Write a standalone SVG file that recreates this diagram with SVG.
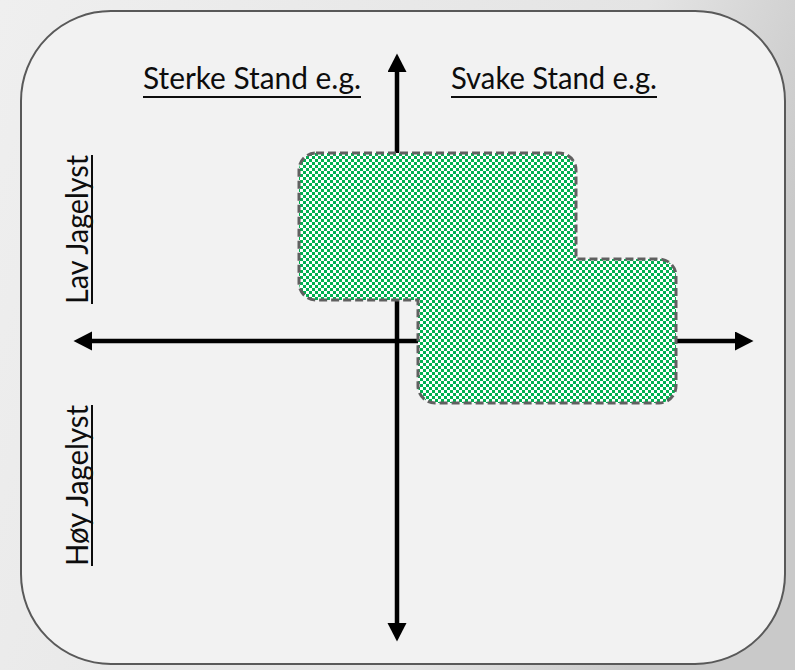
<svg xmlns="http://www.w3.org/2000/svg" width="795" height="670" viewBox="0 0 795 670">
  <defs>
    <linearGradient id="bg" x1="0" y1="0" x2="1" y2="0.3">
      <stop offset="0" stop-color="#efefef"/>
      <stop offset="0.75" stop-color="#e4e4e4"/>
      <stop offset="1" stop-color="#c9c9c9"/>
    </linearGradient>
    <pattern id="checker" width="6" height="6" patternUnits="userSpaceOnUse">
      <rect width="6" height="6" fill="#ffffff" shape-rendering="crispEdges"/>
      <rect x="0" y="0" width="3" height="3" fill="#00b050" shape-rendering="crispEdges"/>
      <rect x="3" y="3" width="3" height="3" fill="#00b050" shape-rendering="crispEdges"/>
    </pattern>
    <marker id="head" markerUnits="userSpaceOnUse" markerWidth="20" markerHeight="20" refX="0" refY="9.5" orient="auto-start-reverse">
      <path d="M0,0 L18.5,9.5 L0,19 Z" fill="#000"/>
    </marker>
    <style>
      .axis { stroke:#000; stroke-width:4.5; fill:none; }
      .lbl { font-family:"Lato","Open Sans","Liberation Sans",sans-serif; font-size:30px; fill:#0d0d0d; }
      .ul { stroke:#0d0d0d; stroke-width:2; }
    </style>
  </defs>

  <rect id="background" x="0" y="0" width="795" height="670" fill="url(#bg)"/>

  <g id="frame">
    <rect x="21" y="11" width="764" height="653" rx="90" ry="90" fill="#f2f2f2" stroke="#595959" stroke-width="2"/>
  </g>

  <g id="connectors">
    <line class="axis" x1="397" y1="72" x2="397" y2="623" marker-start="url(#head)" marker-end="url(#head)"/>
    <line class="axis" x1="92" y1="341" x2="735" y2="341" marker-start="url(#head)" marker-end="url(#head)"/>
  </g>

  <g id="region">
    <path d="M316,153 H559 A17,17 0 0 1 576,170 V259 H659 A17,17 0 0 1 676,276 V386 A17,17 0 0 1 659,403 H435 A17,17 0 0 1 418,386 V300 H316 A17,17 0 0 1 299,283 V170 A17,17 0 0 1 316,153 Z" fill="url(#checker)" stroke="#606060" stroke-width="3" stroke-dasharray="8,4"/>
  </g>

  <g id="label-sterke">
    <text class="lbl" x="143" y="89" textLength="218" lengthAdjust="spacingAndGlyphs">Sterke Stand e.g.</text>
    <line class="ul" x1="143" y1="97" x2="361" y2="97"/>
  </g>
  <g id="label-svake">
    <text class="lbl" x="451" y="89" textLength="206" lengthAdjust="spacingAndGlyphs">Svake Stand e.g.</text>
    <line class="ul" x1="451" y1="97" x2="657" y2="97"/>
  </g>
  <g id="label-lav">
    <text class="lbl" transform="translate(88,304) rotate(-90)" x="0" y="0" textLength="149" lengthAdjust="spacingAndGlyphs">Lav Jagelyst</text>
    <line class="ul" x1="92" y1="304" x2="92" y2="155"/>
  </g>
  <g id="label-hoy">
    <text class="lbl" transform="translate(88,566) rotate(-90)" x="0" y="0" textLength="161" lengthAdjust="spacingAndGlyphs">Høy Jagelyst</text>
    <line class="ul" x1="92" y1="566" x2="92" y2="405"/>
  </g>
</svg>
